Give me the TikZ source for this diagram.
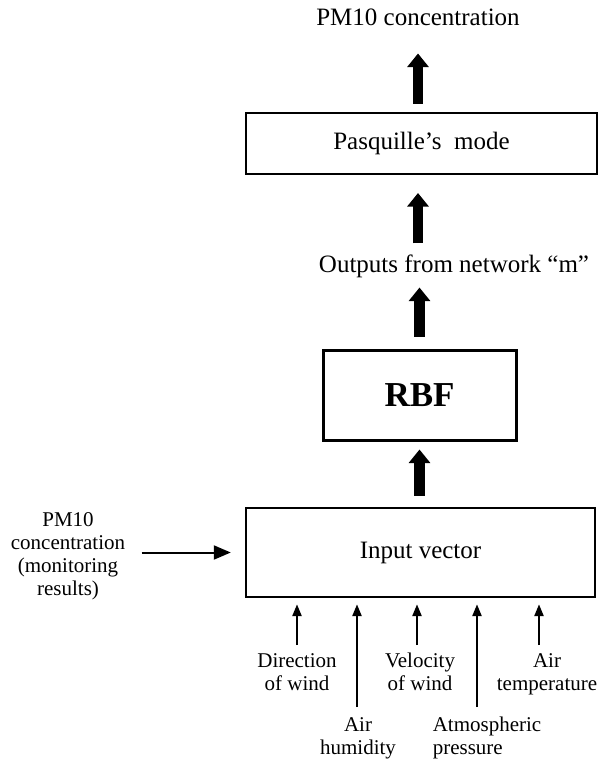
\documentclass[tikz,border=0pt]{standalone}
\usepackage{fontspec}
\setmainfont{Liberation Serif}
\usetikzlibrary{arrows.meta}

\tikzset{
  box/.style={draw, line width=1pt, inner sep=0pt},
  bigtext/.style={font=\fontsize{12.5}{14}\selectfont},
  smalltext/.style={font=\fontsize{10.5}{11.5}\selectfont, align=center, inner sep=0pt},
  fatarrow/.style={line width=5.2pt, -{Triangle[width=10.5pt,length=6.8pt]}},
  thinarrow/.style={line width=1.2pt, -{Triangle[width=4.5pt,length=6pt]}},
}

\begin{document}
\begin{tikzpicture}[x=0.5pt, y=-0.5pt]
    \useasboundingbox (0,0) rectangle (600,765);
    % boxes
    \node (pasq) at (421.5,143.5) [box, minimum width=175.5pt, minimum height=30.5pt, bigtext] {Pasquille’s\ \ mode};
    \node (rbf) at (419.5,395) [box, line width=1.5pt, minimum width=96.5pt, minimum height=45pt,
      font=\fontsize{17.5}{20}\selectfont\bfseries] {RBF};
    \node (input) at (420.5,552.5) [box, line width=1.2pt, minimum width=174.5pt, minimum height=44.5pt, bigtext] {Input vector};
    % labels above
    \node (pmout) at (418,17) [bigtext] {PM10 concentration};
    \node (outm) at (454,266) [bigtext] {Outputs from network “m”};
    % label on the left
    \node (pmin) at (68,556) [smalltext] {PM10\\concentration\\(monitoring\\results)};
    % labels below
    \node (ldir) at (297,672) [smalltext] {Direction\\of wind};
    \node (lvel) at (420,672) [smalltext] {Velocity\\of wind};
    \node (ltemp) at (547,674) [smalltext] {Air\\temperature};
    \node (lhum) at (358,738) [smalltext] {Air\\humidity};
    \node (lpres) at (487,738) [smalltext, align=left] {Atmospheric\\pressure};
    % arrow bases
    \coordinate (cdir) at (297,645);
    \coordinate (chum) at (357,707);
    \coordinate (cvel) at (417,645);
    \coordinate (cpres) at (477,707);
    \coordinate (ctemp) at (539,645);
    % thick arrows
    \draw[fatarrow, shorten <=4pt, shorten >=10.5pt] (pasq.north -| pmout) -- (pmout.south);
    \draw[fatarrow, shorten <=2pt, shorten >=9pt] (outm.north -| pmout) -- (pasq.south -| pmout);
    \draw[fatarrow, shorten <=6pt, shorten >=1.5pt] (rbf.north) -- (outm.south -| rbf.north);
    \draw[fatarrow, shorten <=5.5pt, shorten >=4pt] (input.north -| rbf) -- (rbf.south);
    % thin arrows
    \draw[thinarrow, line width=1pt, -{Triangle[width=7pt,length=8.5pt]}, shorten <=4pt] (pmin.east |- input.west) ++(8,0) -- ([xshift=-7pt]input.west);
    \foreach \c in {cdir,chum,cvel,cpres,ctemp}
      \draw[thinarrow, shorten >=3pt] (\c) -- (\c |- input.south);
\end{tikzpicture}
\end{document}
